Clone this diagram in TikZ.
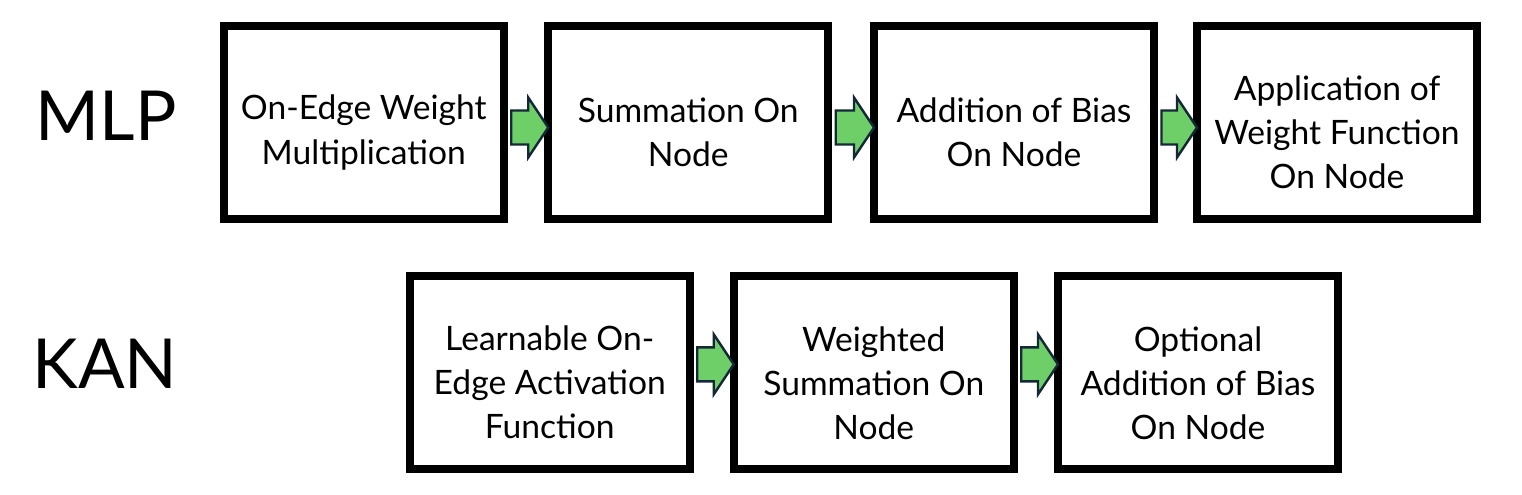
\documentclass[tikz,border=0pt]{standalone}
\usepackage{fontspec}
\setmainfont{Lato}
\usetikzlibrary{calc}
\definecolor{arrgreen}{RGB}{110,207,105}
\definecolor{arrline}{RGB}{20,40,55}
\newcommand\flowarrow[3]{%
  \draw[flowarr] let \p1=(#1.east), \p2=(#2.west) in
    (\x1+1.75pt,\y2+#3+8.5pt) -- (\x2-8pt,\y2+#3+8.5pt) -- (\x2-8pt,\y2+#3+15pt)
    -- (\x2+2pt,\y2+#3) -- (\x2-8pt,\y2+#3-15pt) -- (\x2-8pt,\y2+#3-8.5pt)
    -- (\x1+1.75pt,\y2+#3-8.5pt) -- cycle;}
\begin{document}
\begin{tikzpicture}[x=0.5pt,y=-0.5pt,
  stepbox/.style={draw=black,line width=4pt,fill=white,minimum width=140pt,
    minimum height=96.5pt,inner sep=0pt},
  steptext/.style={inner sep=0pt,align=center,yshift=-5pt,
    font=\fontsize{16.8}{22}\selectfont},
  rowlabel/.style={anchor=base,inner sep=0pt,font=\fontsize{34.5}{40}\selectfont},
  flowarr/.style={fill=arrgreen,draw=arrline,line width=1.2pt,line join=miter}]
\useasboundingbox (0,0) rectangle (1522,494);
\node[rowlabel] (mlp) at (106,140) {MLP};
\node[rowlabel] (kan) at (105,388) {KAN};
\node[stepbox] (m1) at (363.75,122.5) {};
\node[stepbox] (m2) at (688.25,122.5) {};
\node[stepbox] (m3) at (1014,122.5) {};
\node[stepbox] (m4) at (1337,122.5) {};
\node[stepbox] (k1) at (549.75,372.75) {};
\node[stepbox] (k2) at (873.75,372.75) {};
\node[stepbox] (k3) at (1198,372.75) {};
\node[steptext] (m1t) at (m1.center) {On-Edge Weight\\Multiplication};
\node[steptext] (m2t) at (m2.center) {Summation On\\Node};
\node[steptext] (m3t) at (m3.center) {Addition of Bias\\On Node};
\node[steptext] (m4t) at (m4.center) {Application of\\Weight Function\\On Node};
\node[steptext] (k1t) at (k1.center) {Learnable On-\\Edge Activation\\Function};
\node[steptext] (k2t) at (k2.center) {Weighted\\Summation On\\Node};
\node[steptext] (k3t) at (k3.center) {Optional\\Addition of Bias\\On Node};
\flowarrow{m1}{m2}{-2.5pt}
\flowarrow{m2}{m3}{-2.5pt}
\flowarrow{m3}{m4}{-2.5pt}
\flowarrow{k1}{k2}{4.2pt}
\flowarrow{k2}{k3}{4.2pt}
\end{tikzpicture}
\end{document}
